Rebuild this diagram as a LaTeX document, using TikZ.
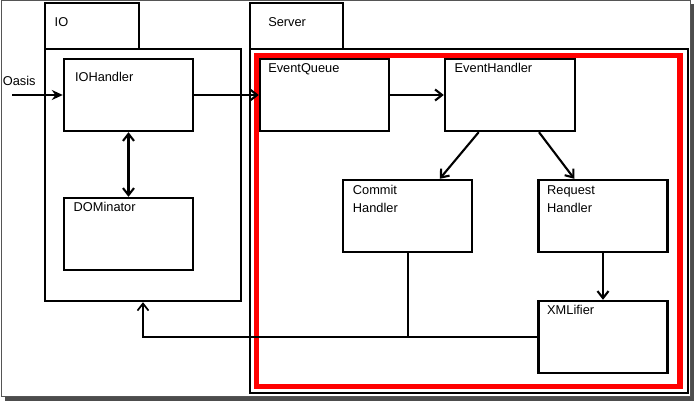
\documentclass[tikz,border=0pt]{standalone}
\usepackage{fontspec}
\setmainfont{Liberation Sans}
\usetikzlibrary{shapes,arrows,fit,positioning,arrows.meta,calc}
\usetikzlibrary{backgrounds}

\definecolor{framegray}{RGB}{85,85,85}
\definecolor{shadowgray}{RGB}{77,77,77}

\begin{document}
\begin{tikzpicture}[x=1pt,y=1pt,yscale=-1,xscale=1,
  >={Straight Barb[length=7pt,width=11pt]},
  box/.style={draw, line width=2.4pt, inner sep=0pt},
  txt/.style={anchor=base west, inner sep=0pt, align=left, font=\fontsize{12.8}{18}\selectfont},
  conn/.style={line width=2.1pt},
  back/.style={line width=1.7pt},
]
\useasboundingbox (0,0) rectangle (694,401);

%Shape: Frame shadow
\fill [shadowgray] (5,396.5) rectangle (694,401);
\fill [shadowgray] (690.5,4) rectangle (694,401);
%Shape: Frame
\draw [framegray, line width=1.2pt] (1.5,0.5) rectangle (690.5,396.5);

%Shape: IO package
\node [box, minimum width=94, minimum height=46] (iotab) at (92,26) {};
\node [box, minimum width=196, minimum height=252] (io) at (143,175) {};
%Shape: Server package
\node [box, minimum width=93, minimum height=46] (srvtab) at (296.5,26) {};
\node [box, minimum width=438, minimum height=344] (srv) at (469,221) {};
%Shape: red frame
\draw [red, line width=5.5pt] (256.3,55.5) rectangle (680,386.3);

%Shape: classes
\node [box, minimum width=129, minimum height=72] (ioh) at (128.5,95) {};
\node [box, minimum width=129, minimum height=72] (dom) at (128.5,234) {};
\node [box, minimum width=129, minimum height=72] (evq) at (324.5,95) {};
\node [box, minimum width=130, minimum height=72] (evh) at (510,95) {};
\node [box, minimum width=129, minimum height=72] (cmh) at (407.75,216) {};
\node [box, minimum width=129, minimum height=72] (rqh) at (603,216) {};
\node [box, minimum width=129, minimum height=72] (xml) at (603,337) {};

% Text Node
\node [txt] (iolbl) at ([shift={(10.7,24.7)}]iotab.north west) {IO};
\node [txt] (srvlbl) at ([shift={(19.3,24.7)}]srvtab.north west) {Server};
\node [txt] (iohlbl) at ([shift={(12,23.5)}]ioh.north west) {IOHandler};
\node [txt] (domlbl) at ([shift={(10.7,14.7)}]dom.north west) {DOMinator};
\node [txt] (evqlbl) at ([shift={(9.3,15)}]evq.north west) {EventQueue};
\node [txt] (evhlbl) at ([shift={(10.7,15)}]evh.north west) {EventHandler};
\node [txt] (cmhlbl) at ([shift={(10.7,33.3)}]cmh.north west) {Commit\\Handler};
\node [txt] (rqhlbl) at ([shift={(9.7,33.3)}]rqh.north west) {Request\\Handler};
\node [txt] (xmllbl) at ([shift={(9.7,14.7)}]xml.north west) {XMLifier};
\node [txt] (oasis) at (2.7,86) {Oasis};

%Connectors
\coordinate (in) at (12,95);
\draw [-{Stealth[length=11pt,width=10pt]}, conn] (in) -- (ioh.west);
\draw [->, conn] (ioh.east) -- (evq.west);
\draw [<->, conn] (ioh.south) -- (dom.north);
\draw [->, conn] (evq.east) -- (evh.west);
\draw [->, conn] ([xshift=-31.3pt]evh.south) -- ([xshift=32pt]cmh.north);
\draw [->, conn] ([xshift=29pt]evh.south) -- ([xshift=-28.7pt]rqh.north);
\draw [->, conn] (rqh.south) -- (xml.north);
\draw [back] (cmh.south) -- (cmh.south |- xml.west);
\draw [->, back] (xml.west) -- (xml.west -| io.south) -- (io.south);
\end{tikzpicture}
\end{document}
